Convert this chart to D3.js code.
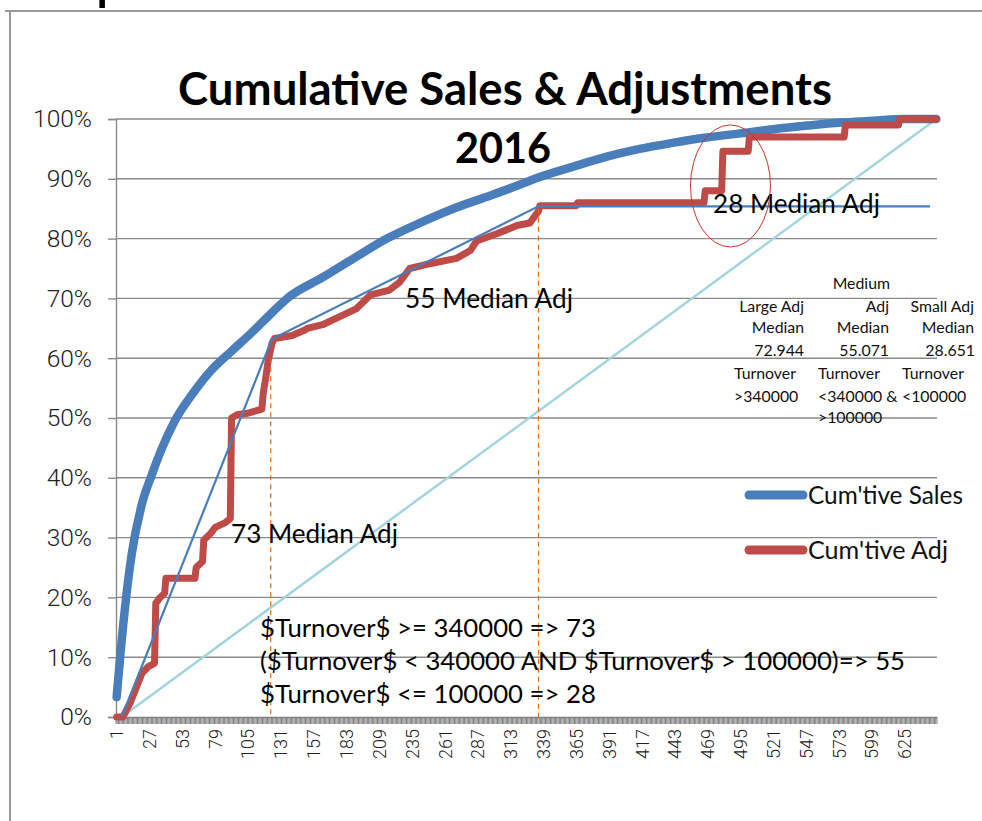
<!DOCTYPE html>
<html>
<head>
<meta charset="utf-8">
<script src="https://cdn.jsdelivr.net/npm/d3@7"></script>
<style>
  body { margin: 0; background: #fff; }
  svg { display: block; }
</style>
</head>
<body>
<svg id="chart"></svg>
<script>
// categories: row index of the sorted customers
const categories = d3.range(1, 651);
const xTickLabels = [1, 27, 53, 79, 105, 131, 157, 183, 209, 235, 261, 287, 313, 339, 365, 391, 417, 443, 469, 495, 521, 547, 573, 599, 625];
const yTicks = [0, 0.1, 0.2, 0.3, 0.4, 0.5, 0.6, 0.7, 0.8, 0.9, 1];

// Cum'tive Sales (% values)
const salesCat = [1, 4, 8, 13, 21, 29, 37, 47, 61, 76, 92, 108, 122, 136, 164, 191, 215, 243, 270, 297, 320, 332, 362, 389, 415, 441, 468, 495, 521, 548, 574, 600, 625, 650];
const salesPct = [3.3, 10.5, 19, 27.3, 35.6, 40.6, 45, 49.5, 54, 58, 61.2, 64.3, 67.2, 70, 73.5, 77, 80, 82.8, 85.2, 87.2, 89, 90, 92, 93.7, 95, 96, 96.9, 97.6, 98.3, 98.9, 99.4, 99.7, 100, 100];

// Cum'tive Adj (step line vertices)
const adjCat = [1, 6, 12, 18, 21, 26, 31, 32, 35, 39, 40, 63, 64, 69, 70, 75, 79, 87, 91, 92, 97, 105, 116, 117, 119, 121, 124, 126, 140, 150, 152, 164, 178, 191, 202, 217, 225, 233, 249, 270, 281, 286, 302, 318, 328, 335, 336, 365, 366, 466, 467, 480, 481, 501, 502, 577, 578, 620, 621, 650];
const adjPct = [0, 0, 2.5, 5.7, 7.3, 8.4, 9, 19, 19.9, 20.7, 23.2, 23.2, 25, 26, 29.6, 30.6, 31.7, 32.5, 33.2, 50, 50.6, 50.8, 51.5, 54, 56.7, 59.6, 62.5, 63.3, 63.8, 64.7, 65, 65.6, 67, 68.3, 70.6, 71.4, 72.7, 75, 75.8, 76.7, 78, 79.6, 80.8, 82.2, 82.6, 84.6, 85.5, 85.5, 86, 86, 88, 88, 94.6, 94.6, 97, 97, 99, 99, 100, 100];

// median-adj trend segments and even-distribution line
const trendCat = [5, 124, 335, 645];
const trendPct = [0, 63.2, 85.4, 85.4];
const diagCat = [5, 650];
const diagPct = [0, 100];

// orange dashed breaks
const breakCat = [123, 335];
const breakTop = [60, 85];

const W = 982, H = 821;
const svg = d3.select("#chart").attr("width", W).attr("height", H);
svg.append("rect").attr("width", W).attr("height", H).attr("fill", "#fff");

const font = "Lato, 'Open Sans', sans-serif";

// 文字按宽度缩放
function fit(sel, w) {
  const len = sel.node().getComputedTextLength();
  const fs = parseFloat(sel.attr("font-size"));
  sel.attr("font-size", (fs * w / len).toFixed(2));
  return sel;
}

// frame of the cropped sheet
svg.append("line").attr("x1", 10).attr("x2", 10).attr("y1", 10).attr("y2", H)
  .attr("stroke", "#9a9a9a").attr("stroke-width", 2);
svg.append("line").attr("x1", 5).attr("x2", W).attr("y1", 11).attr("y2", 11)
  .attr("stroke", "#9a9a9a").attr("stroke-width", 2);
// descender of a heading cropped away above the sheet
svg.append("text").attr("x", 95).attr("y", -3).attr("font-family", font)
  .attr("font-size", 62).text("p");

const x = d3.scaleBand().domain(categories).range([116, 937]);
const xp = c => x(c) + x.bandwidth() / 2;
const y = d3.scaleLinear().domain([0, 1]).range([717, 119]);

// gridlines
svg.append("g").selectAll("line").data(yTicks.slice(1)).join("line")
  .attr("x1", 116).attr("x2", 937)
  .attr("y1", d => y(d)).attr("y2", d => y(d))
  .attr("stroke", "#8a8a8a").attr("stroke-width", 1.4);

// y axis
const yAxis = svg.append("g").attr("transform", "translate(116,0)")
  .call(d3.axisLeft(y).tickValues(yTicks).tickFormat(d3.format(".0%")).tickSize(8).tickPadding(16));
yAxis.select(".domain").attr("stroke", "#8a8a8a").attr("stroke-width", 1.4);
yAxis.selectAll(".tick line").attr("stroke", "#8a8a8a").attr("stroke-width", 1.4);
const yLab = yAxis.selectAll(".tick text").attr("font-family", "Roboto, sans-serif").attr("font-weight", 300)
  .attr("font-size", 19).attr("fill", "#222");
// size from the widest label "100%"
const yTop = yLab.filter(d => d === 1);
fit(yTop, 59);
yLab.attr("font-size", yTop.attr("font-size"));

// x axis: a tick at every category boundary
const xg = svg.append("g");
xg.selectAll("line").data(categories.concat([651])).join("line")
  .attr("x1", d => d === 651 ? 937 : x(d)).attr("x2", d => d === 651 ? 937 : x(d))
  .attr("y1", 717).attr("y2", 724)
  .attr("stroke", "#808080").attr("stroke-width", 1);
xg.append("line").attr("x1", 116).attr("x2", 937).attr("y1", 717.5).attr("y2", 717.5)
  .attr("stroke", "#808080").attr("stroke-width", 1.5);
xg.selectAll("text").data(xTickLabels).join("text")
  .attr("transform", d => `translate(${xp(d)},729) rotate(-90)`)
  .attr("dy", "0.36em").attr("text-anchor", "end")
  .attr("font-family", "Roboto, sans-serif").attr("font-weight", 300)
  .attr("font-size", 18).attr("fill", "#222")
  .text(d => d);

const line = (cats, vals, curve) => d3.line()
  .x((d, i) => xp(cats[i]))
  .y((d, i) => y(vals[i] / 100))
  .curve(curve || d3.curveLinear)(cats);

// even line
svg.append("path").attr("d", line(diagCat, diagPct))
  .attr("fill", "none").attr("stroke", "#a3d4e0").attr("stroke-width", 2.5);

// Cum'tive Sales
svg.append("path").attr("d", line(salesCat, salesPct, d3.curveMonotoneX))
  .attr("fill", "none").attr("stroke", "#4a7ebb").attr("stroke-width", 8.5)
  .attr("stroke-linecap", "round").attr("stroke-linejoin", "round");

// Cum'tive Adj
svg.append("path").attr("d", line(adjCat, adjPct))
  .attr("fill", "none").attr("stroke", "#be4b48").attr("stroke-width", 7)
  .attr("stroke-linecap", "round").attr("stroke-linejoin", "round");

// trend segments
svg.append("path").attr("d", line(trendCat, trendPct))
  .attr("fill", "none").attr("stroke", "#4a7ebb").attr("stroke-width", 2.2);

// dashed breaks
svg.append("g").selectAll("line").data(breakCat).join("line")
  .attr("x1", d => xp(d)).attr("x2", d => xp(d))
  .attr("y1", (d, i) => y(breakTop[i] / 100)).attr("y2", y(0))
  .attr("stroke", "#e46c0a").attr("stroke-width", 1.2).attr("stroke-dasharray", "5,4");

// title
fit(svg.append("text").attr("x", 505).attr("y", 105).attr("text-anchor", "middle")
  .attr("font-family", font).attr("font-weight", 700).attr("font-size", 40)
  .text("Cumulative Sales & Adjustments"), 654);
fit(svg.append("text").attr("x", 503).attr("y", 163).attr("text-anchor", "middle")
  .attr("font-family", font).attr("font-weight", 700).attr("font-size", 40)
  .text("2016"), 96);

// annotations
const notes = [
  ["73 Median Adj", 231, 543, 167],
  ["55 Median Adj", 405, 308, 168],
  ["28 Median Adj", 713, 213, 167],
  ["$Turnover$ >= 340000 => 73", 260, 637, 336],
  ["($Turnover$ < 340000 AND $Turnover$ > 100000)=> 55", 260, 670, 645],
  ["$Turnover$ <= 100000 => 28", 260, 703, 336]
];
notes.forEach(n => fit(svg.append("text").attr("x", n[1]).attr("y", n[2])
  .attr("font-family", font).attr("font-size", 22).attr("fill", "#000").text(n[0]), n[3]));

// small table
const tbl = [
  ["Medium", 890, 289, "end"],
  ["Large Adj", 804, 312, "end"], ["Adj", 889, 312, "end"], ["Small Adj", 974, 312, "end"],
  ["Median", 804, 333, "end"], ["Median", 889, 333, "end"], ["Median", 974, 333, "end"],
  ["72.944", 804, 356, "end"], ["55.071", 889, 356, "end"], ["28.651", 975, 356, "end"],
  ["Turnover", 734, 379, "start"], ["Turnover", 818, 379, "start"], ["Turnover", 902, 379, "start"],
  [">340000", 734, 402, "start"], ["<340000 &", 818, 402, "start"], ["<100000", 902, 402, "start"],
  [">100000", 818, 423, "start"]
];
const probe = svg.append("text").attr("font-family", font).attr("font-size", 14).text("Turnover");
fit(probe, 62);
const tfs = probe.attr("font-size");
probe.remove();
svg.append("g").selectAll("text").data(tbl).join("text")
  .attr("x", d => d[1]).attr("y", d => d[2]).attr("text-anchor", d => d[3])
  .attr("font-family", font).attr("font-size", tfs).attr("fill", "#111")
  .text(d => d[0]);

// legend
const legend = [["Cum'tive Sales", "#4a7ebb", 495, 155], ["Cum'tive Adj", "#be4b48", 550, 140]];
legend.forEach(l => {
  svg.append("line").attr("x1", 749).attr("x2", 803).attr("y1", l[2]).attr("y2", l[2])
    .attr("stroke", l[1]).attr("stroke-width", 9).attr("stroke-linecap", "round");
  fit(svg.append("text").attr("x", 808).attr("y", l[2] + 9)
    .attr("font-family", font).attr("font-size", 20).attr("fill", "#111").text(l[0]), l[3]);
});

// highlight ellipse
svg.append("ellipse").attr("cx", xp(487)).attr("cy", y(0.888)).attr("rx", 40).attr("ry", 61)
  .attr("fill", "none").attr("stroke", "#c0392b").attr("stroke-width", 1);
</script>
</body>
</html>
